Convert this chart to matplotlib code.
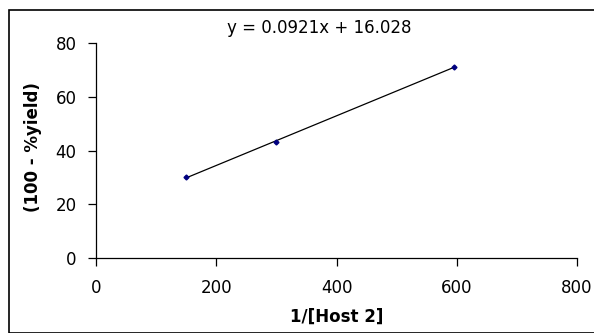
import matplotlib
matplotlib.use("Agg")
import matplotlib.pyplot as plt
from matplotlib.patches import Rectangle
import numpy as np

x_vals = [150, 300, 595]
y_vals = [30.0, 43.2, 70.9]
slope = 0.0921
intercept = 16.028
x_ticks = [0, 200, 400, 600, 800]
y_ticks = [0, 20, 40, 60, 80]
equation = "y = 0.0921x + 16.028"
x_label = "1/[Host 2]"
y_label = "(100 - %yield)"

plt.rcParams['font.family'] = ['DejaVu Sans']

W, H = 594, 333
fig = plt.figure(figsize=(W/100, H/100), dpi=100)
fig.patches.append(Rectangle((9/W, 0), 1, 1 - 10/H, transform=fig.transFigure,
                             fill=False, edgecolor='black', linewidth=1.2))
ax = fig.add_axes([96/W, 1 - 258.3/H, (577-96)/W, (258.3-42.7)/H])

xl = np.array([min(x_vals), max(x_vals)])
ax.plot(xl, slope*xl + intercept, color='black', linewidth=0.9)
ax.plot(x_vals, y_vals, linestyle='none', marker='D', markersize=2.5,
        color='#000080')

ax.set_xlim(0, 800)
ax.set_ylim(0, 80)
ax.set_xticks(x_ticks)
ax.set_yticks(y_ticks)
ax.tick_params(labelsize=12, length=6, width=0.9, direction='out')
ax.tick_params(axis='x', pad=9)
ax.tick_params(axis='y', pad=8)
for s in ['top', 'right']:
    ax.spines[s].set_visible(False)
for s in ['left', 'bottom']:
    ax.spines[s].set_linewidth(0.9)

ax.set_xlabel(x_label, fontsize=12, fontweight='bold', labelpad=8)
ax.set_ylabel(y_label, fontsize=12, fontweight='bold')
ax.yaxis.set_label_coords(-0.112, 0.514)
fig.text(319/W, 1 - 28/H, equation, fontsize=12, ha='center', va='center')

fig.savefig("out.png", dpi=100)
